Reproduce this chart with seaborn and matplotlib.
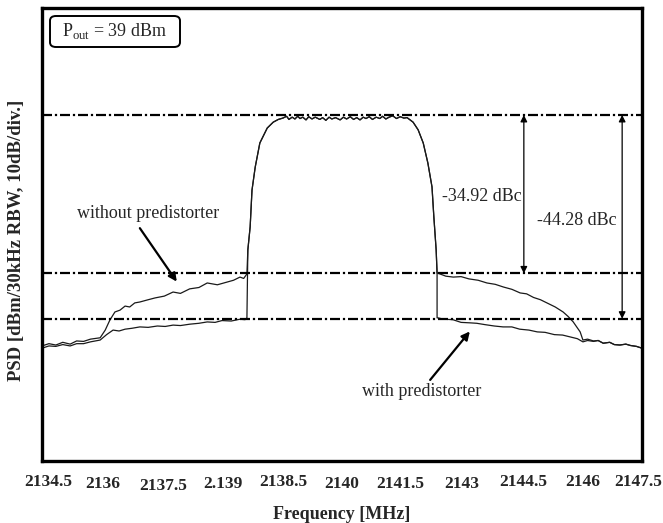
import numpy as np
import pandas as pd
import matplotlib
matplotlib.use("Agg")
import matplotlib.pyplot as plt
from matplotlib.patches import FancyBboxPatch
from matplotlib.transforms import ScaledTranslation
import seaborn as sns

# ---------------- data ----------------
tick_labels = ["2134.5", "2136", "2137.5", "2.139", "2138.5", "2140",
               "2141.5", "2143", "2144.5", "2146", "2147.5"]

# carrier (common to both traces)
carrier_f = [2138.96, 2139.01, 2139.05, 2139.12, 2139.22, 2139.38, 2139.51, 2139.62, 2139.72,
             2139.80, 2139.85, 2139.92, 2139.98, 2140.04, 2140.09, 2140.15, 2140.22, 2140.28,
             2140.35, 2140.42, 2140.52, 2140.58, 2140.65, 2140.72, 2140.78, 2140.86,
             2140.96, 2141.03, 2141.10, 2141.18, 2141.25, 2141.32, 2141.39, 2141.46,
             2141.52, 2141.59, 2141.66, 2141.74, 2141.82, 2141.88, 2141.95, 2142.02,
             2142.10, 2142.18, 2142.26, 2142.34, 2142.41, 2142.54, 2142.65, 2142.76,
             2142.86, 2142.95, 2142.99, 2143.04, 2143.06]
carrier_db = [46.6, 51.7, 59.8, 64.9, 70.2, 73.5, 74.8, 75.4, 75.7,
              76.1, 75.4, 75.9, 75.5, 76.1, 75.6, 75.9, 75.3, 76.0,
              75.5, 75.9, 75.4, 75.8, 75.2, 75.9, 75.5, 75.8,
              75.3, 75.9, 75.5, 76.0, 75.4, 75.8, 75.3, 75.9,
              75.6, 76.0, 75.4, 75.9, 75.6, 76.1, 75.5, 75.9,
              76.2, 75.6, 76.0, 75.7, 75.8, 74.8, 73.1, 70.2,
              65.8, 60.5, 53.9, 46.6, 41.5]

# without predistorter
wo_left_f = [2134.50, 2134.65, 2134.80, 2134.95, 2135.11, 2135.25, 2135.40, 2135.55, 2135.76,
             2135.87, 2135.97, 2136.08, 2136.19, 2136.30, 2136.40, 2136.51, 2136.62, 2136.80,
             2136.95, 2137.15, 2137.34, 2137.50, 2137.70, 2137.90, 2138.08, 2138.30,
             2138.51, 2138.65, 2138.79, 2138.87, 2138.94]
wo_left_db = [25.4, 25.9, 25.6, 26.2, 25.8, 26.5, 26.4, 26.9, 27.2,
              28.9, 31.1, 32.9, 33.3, 34.2, 34.0, 34.9, 35.1, 35.6,
              36.0, 36.4, 37.3, 37.0, 38.0, 38.3, 39.3, 38.9,
              39.5, 39.9, 40.6, 40.3, 41.3]
wo_right_f = [2143.12, 2143.25, 2143.41, 2143.58, 2143.75, 2143.95, 2144.14, 2144.32, 2144.50,
              2144.68, 2144.86, 2145.00, 2145.15, 2145.30, 2145.44, 2145.62, 2145.79, 2145.90,
              2146.01, 2146.16, 2146.22, 2146.32, 2146.45, 2146.55, 2146.66, 2146.80,
              2146.90, 2147.02, 2147.15, 2147.25, 2147.38, 2147.50]
wo_right_db = [41.3, 40.8, 40.6, 40.7, 40.2, 39.9, 39.3, 39.0, 38.4,
               37.9, 37.1, 36.9, 36.1, 35.6, 34.9, 34.0, 32.9, 31.9,
               30.7, 28.5, 26.7, 26.9, 26.5, 26.6, 26.0, 26.2,
               25.7, 25.6, 25.8, 25.5, 25.3, 24.9]

# with predistorter
w_left_f = [2134.50, 2134.65, 2134.80, 2134.95, 2135.11, 2135.25, 2135.40, 2135.55, 2135.76,
            2135.90, 2136.04, 2136.17, 2136.30, 2136.45, 2136.62, 2136.80, 2137.00, 2137.17,
            2137.34, 2137.50, 2137.70, 2137.90, 2138.08, 2138.25, 2138.40, 2138.60,
            2138.79, 2138.90, 2138.94]
w_left_db = [24.9, 25.4, 25.3, 25.7, 25.4, 25.9, 25.9, 26.3, 26.7,
             27.9, 28.9, 28.7, 29.1, 29.3, 29.6, 29.5, 29.8, 29.7,
             30.0, 29.9, 30.2, 30.4, 30.7, 30.6, 31.0, 30.9,
             31.3, 31.2, 31.6]
w_right_f = [2143.06, 2143.08, 2143.20, 2143.40, 2143.58, 2143.77, 2143.92, 2144.10, 2144.30,
             2144.49, 2144.68, 2144.85, 2145.05, 2145.23, 2145.40, 2145.60, 2145.78, 2145.94,
             2146.10, 2146.22, 2146.32, 2146.45, 2146.55, 2146.66, 2146.80, 2146.90,
             2147.02, 2147.15, 2147.25, 2147.38, 2147.50]
w_right_db = [31.6, 31.6, 31.3, 31.2, 30.6, 30.5, 30.4, 30.1, 29.8,
              29.6, 29.6, 29.1, 28.9, 28.5, 28.4, 27.9, 27.8, 27.4,
              27.0, 26.3, 26.6, 26.4, 26.6, 26.0, 26.2, 25.7,
              25.6, 25.8, 25.5, 25.3, 24.9]

ref_levels = [76.4, 41.4, 31.4]
dbc_labels = ["-34.92 dBc", "-44.28 dBc"]

# ---------------- build tables ----------------
df_wo = pd.DataFrame({"f": wo_left_f + carrier_f + wo_right_f,
                      "psd": wo_left_db + carrier_db + wo_right_db})
df_w = pd.DataFrame({"f": w_left_f + carrier_f + w_right_f,
                     "psd": w_left_db + carrier_db + w_right_db})

# ---------------- style ----------------
sns.set_style("white")
plt.rcParams["font.family"] = ["Liberation Serif", "DejaVu Serif"]
plt.rcParams["mathtext.fontset"] = "custom"
plt.rcParams["mathtext.rm"] = "Liberation Serif"

FS = 13
fig = plt.figure(figsize=(6.63, 5.23), dpi=100)
ax = fig.add_axes([42 / 663, 1 - 461 / 523, 600 / 663, 453 / 523])

sns.lineplot(data=df_wo, x="f", y="psd", ax=ax, sort=False, estimator=None,
             color="#1a1a1a", lw=0.9)
sns.lineplot(data=df_w, x="f", y="psd", ax=ax, sort=False, estimator=None,
             color="#1a1a1a", lw=0.9)

xmin, xmax = 2134.5, 2147.5
for lv in ref_levels:
    ax.plot([xmin, xmax], [lv, lv], color="black", lw=1.6,
            linestyle=(0, (4.5, 1.3, 1.0, 1.3)))

ax.set_xlim(xmin, xmax)
ax.set_ylim(0, 100)
ax.set_xticks(np.linspace(xmin, xmax, 11))
ax.set_xticklabels(tick_labels, fontweight="bold", fontsize=12.5)
ax.set_yticks(np.arange(0, 101, 10))
ax.set_yticklabels([])
ax.tick_params(axis="both", direction="in", length=7, width=1.6, color="black")
ax.tick_params(axis="x", pad=9)
for s in ax.spines.values():
    s.set_linewidth(2.4)
    s.set_color("black")

# small offsets of the tick labels as in the reference (pixels)
label_dx_px = [6, 1, 1, 1, 1, 0, -2, 0, 1, 1, -4]
label_drop_px = [0, 2, 4, 2.5, 1, 2.5, 2.5, 3, 0, 0, 0]
for lab, dx, d in zip(ax.get_xticklabels(), label_dx_px, label_drop_px):
    lab.set_transform(lab.get_transform() +
                      ScaledTranslation(dx / 100, -d / 100, fig.dpi_scale_trans))

ax.set_xlabel("Frequency [MHz]", fontweight="bold", fontsize=FS, labelpad=9)
ax.set_ylabel("PSD [dBm/30kHz RBW, 10dB/div.]", fontweight="bold", fontsize=13.5)
ax.yaxis.set_label_coords(-0.029, 0.488)

# double-headed level arrows
arrow_kw = dict(arrowstyle="<|-|>", color="black", lw=0.9, mutation_scale=10,
                shrinkA=0, shrinkB=0)
ax.annotate("", xy=(2144.94, ref_levels[0]), xytext=(2144.94, ref_levels[1]),
            arrowprops=arrow_kw)
ax.annotate("", xy=(2147.07, ref_levels[0]), xytext=(2147.07, ref_levels[2]),
            arrowprops=arrow_kw)
ax.text(2143.17, 58.3, dbc_labels[0], fontsize=FS, ha="left", va="center")
ax.text(2145.23, 53.0, dbc_labels[1], fontsize=FS, ha="left", va="center")

# series annotations
ann_kw = dict(arrowstyle="-|>", color="black", lw=1.6, mutation_scale=12,
              shrinkA=0, shrinkB=0)
ax.text(2136.80, 54.7, "without predistorter", fontsize=FS, ha="center", va="center")
ax.annotate("", xy=(2137.42, 39.6), xytext=(2136.62, 51.4), arrowprops=ann_kw)
ax.text(2142.73, 15.3, "with predistorter", fontsize=FS, ha="center", va="center")
ax.annotate("", xy=(2143.77, 28.6), xytext=(2142.91, 17.9), arrowprops=ann_kw)

# P_out box
box = FancyBboxPatch((50 / 663, 1 - 47 / 523), 130 / 663, 31 / 523,
                     boxstyle="round,pad=0,rounding_size=0.009",
                     transform=fig.transFigure, fc="white", ec="black", lw=1.4,
                     zorder=5)
fig.patches.append(box)
fig.text(115 / 663, 1 - 31 / 523, r"P$_{\mathregular{out}}$ = 39 dBm", fontsize=FS,
         ha="center", va="center", zorder=6)

fig.savefig("out.png", dpi=100)
